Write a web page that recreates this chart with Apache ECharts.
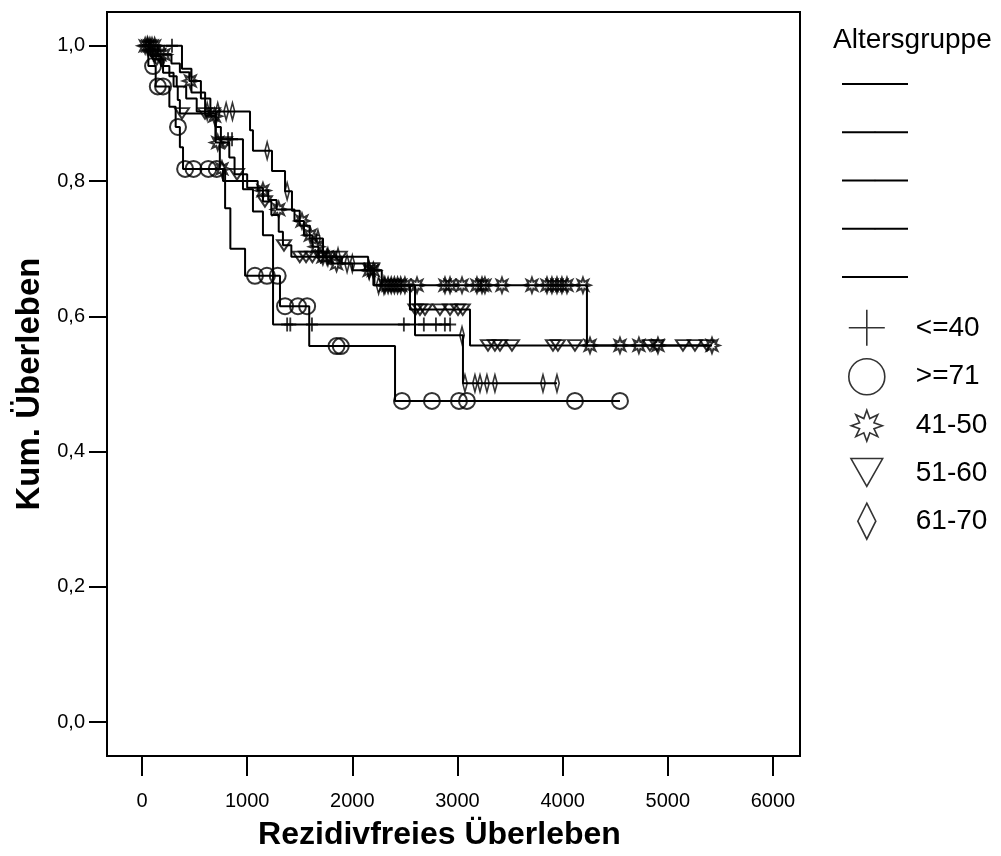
<!DOCTYPE html>
<html><head><meta charset="utf-8">
<script src="https://cdn.jsdelivr.net/npm/echarts@6/dist/echarts.min.js"></script>
<style>html,body{margin:0;padding:0;background:#fff}#c{width:1001px;height:856px}</style>
</head><body><div id="c"></div>
<script>
// ---- data ----
const groups = ['<=40', '>=71', '41-50', '51-60', '61-70'];
const xTicks = [0, 1000, 2000, 3000, 4000, 5000, 6000];
const yTicks = [0, 0.2, 0.4, 0.6, 0.8, 1.0];
const yTickLabels = ['0,0', '0,2', '0,4', '0,6', '0,8', '1,0'];

// <=40
const t40 = [380, 470, 600, 700, 960, 1055, 1150, 1246];
const s40 = [0.966, 0.931, 0.897, 0.862, 0.788, 0.755, 0.72, 0.588];
const c40 = [76, 285, 818, 856, 1380, 1410, 1616, 2490, 2680, 2795, 2880, 2930];
// >=71
const t71 = [60, 130, 260, 320, 360, 390, 790, 840, 980, 1312, 1590, 2406];
const s71 = [0.97, 0.94, 0.91, 0.88, 0.85, 0.818, 0.76, 0.70, 0.66, 0.615, 0.556, 0.475];
const c71 = [105, 150, 200, 342, 410, 490, 630, 710, 1074, 1188, 1290, 1360, 1483, 1570, 1850, 1890, 2472, 2757, 3014, 3090, 4117, 4545];
// 41-50
const t50 = [150, 280, 360, 450, 560, 650, 700, 740, 770, 1100, 1200, 1280, 1450, 1540, 1620, 1680, 1800, 2000, 2280, 4231];
const s50 = [0.987, 0.974, 0.961, 0.948, 0.922, 0.896, 0.857, 0.818, 0.80, 0.786, 0.772, 0.758, 0.741, 0.72, 0.703, 0.688, 0.678, 0.668, 0.646, 0.557];
const c50 = [30, 55, 75, 95, 120, 170, 210, 460, 690, 720, 760, 1150, 1300, 1521, 1600, 1660, 1720, 1760, 1850, 2160, 2200, 2310, 2340, 2370, 2400, 2430, 2460, 2500, 2615, 2881, 2929, 3043, 3185, 3233, 3261, 3423, 3708, 3851, 3898, 3946, 3993, 4041, 4193, 4260, 4545, 4725, 4906, 5420];
// 51-60
const t60 = [100, 200, 300, 340, 360, 700, 750, 830, 880, 1000, 1150, 1230, 1300, 1340, 1420, 2150, 2210, 2548, 3119];
const s60 = [0.98, 0.96, 0.94, 0.92, 0.90, 0.88, 0.857, 0.835, 0.81, 0.79, 0.77, 0.75, 0.725, 0.705, 0.688, 0.671, 0.646, 0.61, 0.557];
const c60 = [140, 380, 599, 675, 789, 903, 1169, 1350, 1500, 1560, 1620, 1700, 1780, 1880, 2187, 2600, 2643, 2691, 2833, 2929, 3005, 3050, 3290, 3356, 3404, 3518, 3908, 3955, 4117, 4830, 4897, 5144, 5258, 5372];
// 61-70
const t70 = [80, 180, 260, 330, 420, 520, 1027, 1055, 1236, 1360, 1426, 1500, 1595, 1721, 1900, 2120, 2200, 2596, 3052];
const s70 = [0.985, 0.97, 0.955, 0.94, 0.922, 0.903, 0.875, 0.845, 0.815, 0.785, 0.756, 0.734, 0.715, 0.688, 0.678, 0.668, 0.646, 0.572, 0.501];
const c70 = [50, 120, 620, 720, 800, 860, 1190, 1380, 1673, 1768, 1864, 1950, 2000, 2160, 2250, 2300, 3043, 3071, 3166, 3214, 3280, 3356, 3813, 3946];

const eventTimes = [t40, t71, t50, t60, t70];
const survivals = [s40, s71, s50, s60, s70];
const censorTimes = [c40, c71, c50, c60, c70];

// ---- helpers ----
function starPts(n, rIn) {
  let d = '';
  for (let i = 0; i < 2 * n; i++) {
    const r = i % 2 === 0 ? 50 : 50 * rIn;
    const a = Math.PI * i / n - Math.PI / 2;
    d += (i === 0 ? 'M' : 'L') + (50 + r * Math.cos(a)).toFixed(2) + ',' + (50 + r * Math.sin(a)).toFixed(2);
  }
  return d + 'Z';
}
const STAR = starPts(8, 0.5);
const symbols = [
  'path://M0,50L100,50M50,0L50,100',
  'circle',
  'path://' + STAR,
  'path://M0,0L100,0L50,88Z',
  'path://M25,0L50,50L25,100L0,50Z'
];
const legendIcons = [
  'path://M0,50L100,50M50,0L50,100',
  'circle',
  'path://M-8,-8M108,108' + STAR,
  'path://M-10,-6M110,100M0,0L100,0L50,88Z',
  'path://M25,0L50,50L25,100L0,50Z'
];
const symbolSizes = [[12, 14], 16, 15, [14, 12], [9, 17]];

function survAt(times, surv, t) {
  let s = 1;
  for (let i = 0; i < times.length; i++) if (times[i] <= t) s = surv[i];
  return s;
}

const FONT = "'Liberation Sans', Arial, sans-serif";
const series = [];
groups.forEach((g, i) => {
  const times = eventTimes[i], surv = survivals[i], cens = censorTimes[i];
  const data = [[0, 1]];
  times.forEach((t, k) => data.push([t, surv[k]]));
  const last = Math.max(times[times.length - 1], cens[cens.length - 1]);
  data.push([last, surv[surv.length - 1]]);
  series.push({
    name: 'L' + g, type: 'line', step: 'end', data,
    symbol: 'none', showSymbol: false, silent: true,
    lineStyle: { color: '#000', width: 2 }, itemStyle: { color: '#000' }, z: 2
  });
});
groups.forEach((g, i) => {
  const times = eventTimes[i], surv = survivals[i];
  series.push({
    name: g, type: 'scatter',
    data: censorTimes[i].map(c => [c, survAt(times, surv, c)]),
    symbol: symbols[i], symbolSize: symbolSizes[i], symbolKeepAspect: true,
    itemStyle: { color: 'rgba(0,0,0,0)', borderColor: '#000', borderWidth: 2 },
    z: 3
  });
});

const chart = echarts.init(document.getElementById('c'), null, { renderer: 'canvas' });
chart.setOption({
  animation: false,
  backgroundColor: '#fff',
  title: {
    text: 'Altersgruppe', left: 828, top: 21,
    textStyle: { fontSize: 28, fontWeight: 'normal', color: '#000', fontFamily: FONT }
  },
  grid: { left: 107, right: 201, top: 12, bottom: 96, show: true, borderColor: '#000', borderWidth: 2, backgroundColor: 'transparent' },
  xAxis: {
    type: 'value', min: -333, max: 6257,
    axisLine: { show: false, onZero: false },
    axisTick: { show: true, customValues: xTicks, length: 20, lineStyle: { color: '#000', width: 2 } },
    axisLabel: { customValues: xTicks, color: '#000', fontSize: 20, fontFamily: FONT, margin: 35, formatter: v => String(v) },
    splitLine: { show: false },
    name: 'Rezidivfreies Überleben', nameLocation: 'middle', nameGap: 63,
    nameTextStyle: { fontSize: 32, fontWeight: 'bold', color: '#000', fontFamily: FONT, padding: [0, 28, 0, 0] }
  },
  yAxis: {
    type: 'value', min: -0.05, max: 1.05,
    axisLine: { show: false, onZero: false },
    axisTick: { show: true, customValues: yTicks, length: 18, lineStyle: { color: '#000', width: 2 } },
    axisLabel: {
      customValues: yTicks, color: '#000', fontSize: 20, fontFamily: FONT, margin: 22,
      formatter: v => yTickLabels[yTicks.findIndex(t => Math.abs(t - v) < 1e-6)]
    },
    splitLine: { show: false },
    name: 'Kum. Überleben', nameLocation: 'middle', nameGap: 38, nameRotate: 90,
    nameTextStyle: { fontSize: 33, fontWeight: 'bold', color: '#000', fontFamily: FONT }
  },
  legend: [
    {
      data: groups.map(g => 'L' + g), orient: 'vertical', left: 836, top: 78,
      itemWidth: 66, itemHeight: 2, itemGap: 46.25, selectedMode: false,
      itemStyle: { color: '#000' },
      formatter: () => '', textStyle: { fontSize: 1 }
    },
    {
      data: groups.map((g, i) => ({ name: g, icon: legendIcons[i] })),
      orient: 'vertical', left: 842, top: 304,
      itemWidth: 38, itemHeight: 36, itemGap: 11.35, selectedMode: false,
      itemStyle: { color: 'rgba(0,0,0,0)', borderColor: '#000', borderWidth: 1.6 },
      textStyle: { fontSize: 28, color: '#000', fontFamily: FONT, padding: [0, 0, 0, 25] }
    }
  ],
  series
});
</script></body></html>
